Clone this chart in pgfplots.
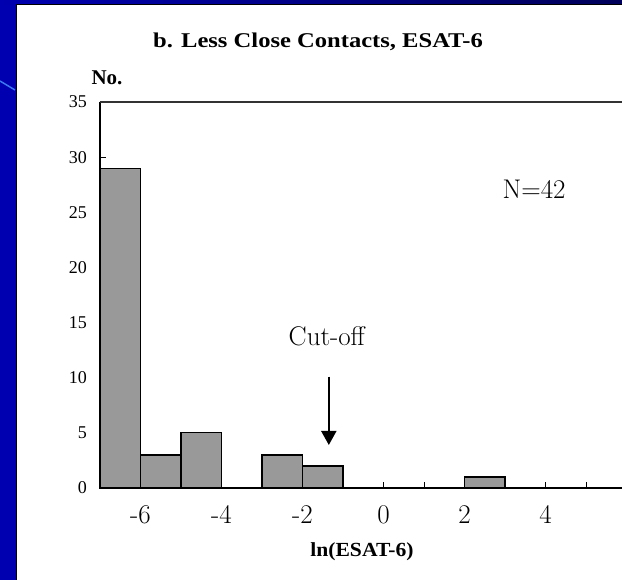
\documentclass[border=0pt]{standalone}
\usepackage{pgfplots}
\pgfplotsset{compat=1.18}
\usepackage{fontspec}
\setmainfont{Liberation Serif}
\newfontfamily\lmfont{Latin Modern Roman}
\usetikzlibrary{arrows.meta}
\definecolor{frameblue}{RGB}{0,0,176}
\definecolor{framedark}{RGB}{0,0,90}
\definecolor{barfill}{RGB}{153,153,153}
\definecolor{lineblue}{RGB}{60,120,240}
\begin{document}
\begin{tikzpicture}[x=1pt,y=1pt]
\path[use as bounding box] (0,0) rectangle (622,580);
\clip (0,0) rectangle (622,580);
\fill[frameblue] (0,0) rectangle (622,580);
\shade[left color=frameblue, right color=framedark] (0,575) rectangle (622,580);
\fill[white] (16,0) rectangle (622,575);
\draw[black, line width=1pt] (16.5,0) -- (16.5,575.5) -- (622,575.5);
\draw[lineblue, line width=1.5pt] (0,499) -- (15,490);
\node[font=\bfseries\fontsize{21}{21}\selectfont] at (318,538) {\scalebox{1.17}[1]{b. Less Close Contacts, ESAT-6}};
\node[font=\bfseries\fontsize{21}{21}\selectfont] at (107,502) {No.};
\node[font=\bfseries\fontsize{20}{20}\selectfont] at (362,28) {\scalebox{1.08}[1]{ln(ESAT-6)}};
\begin{axis}[
  at={(100pt,92pt)}, anchor=south west,
  scale only axis, width=526.5pt, height=386pt,
  xmin=-7, xmax=6, ymin=0, ymax=35,
  axis lines*=left,
  x axis line style={line width=2pt},
  y axis line style={line width=1.5pt},
  tick align=inside,
  major tick length=6pt, minor tick length=6pt,
  tick style={black, line width=1pt},
  xtick={-6,-4,-2,0,2,4},
  xticklabels={-6,-4,-2,0,2,4},
  minor xtick={-7,-5,-3,-1,1,3,5},
  ytick={0,5,10,15,20,25,30,35},
  /pgf/number format/assume math mode=true,
  yticklabel style={font=\fontsize{18}{18}\selectfont, anchor=east, inner sep=0pt, xshift=-13pt},
  xticklabel style={font=\lmfont\fontsize{27}{27}\selectfont, anchor=north, inner sep=0pt, yshift=-17pt},
  clip=false,
]
\addplot[ybar interval, fill=barfill, draw=black, line width=1.2pt]
  coordinates {(-7,29) (-6,3) (-5,5) (-4,0) (-3,3) (-2,2) (-1,0)};
\addplot[ybar interval, fill=barfill, draw=black, line width=1.2pt]
  coordinates {(2,1) (3,0)};
\draw[black!80, line width=1.5pt] (rel axis cs:0,1) -- (rel axis cs:1,1);
\draw[line width=2pt, -{Triangle[width=15pt,length=14pt]}] (axis cs:-1.35,10.1) -- (axis cs:-1.35,3.9);
\node[font=\lmfont\fontsize{27}{27}\selectfont] at (axis cs:-1.4,13.8) {Cut-off};
\node[font=\lmfont\fontsize{27}{27}\selectfont] at (axis cs:3.72,27.1) {N=42};
\end{axis}
\end{tikzpicture}
\end{document}
